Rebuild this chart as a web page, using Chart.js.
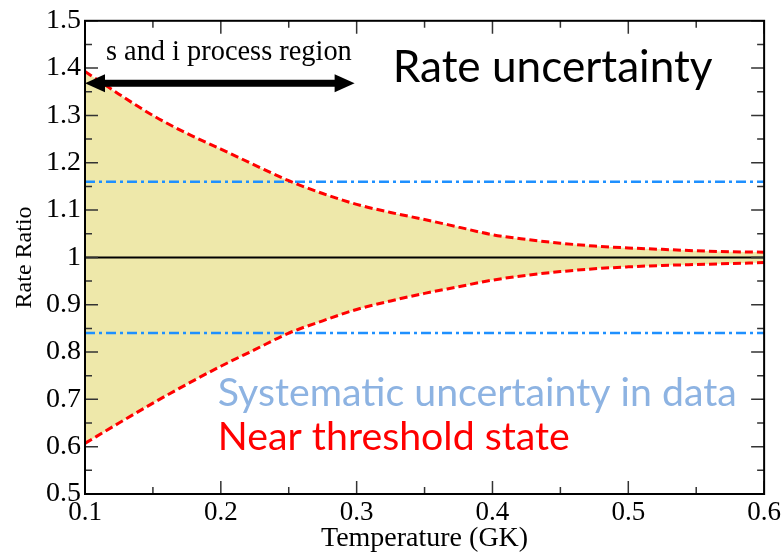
<!DOCTYPE html>
<html><head><meta charset="utf-8">
<script src="https://cdn.jsdelivr.net/npm/chart.js@4.4.1/dist/chart.umd.min.js"></script>
<style>html,body{margin:0;padding:0;background:#fff}#wrap{width:784px;height:552px;position:relative}</style>
</head><body><div id="wrap"><canvas id="c" width="784" height="552"></canvas></div>
<script>
// ---- data ----
const temperature = [0.1,0.125,0.15,0.175,0.2,0.225,0.25,0.275,0.3,0.325,0.35,0.375,0.4,0.425,0.45,0.475,0.5,0.525,0.55,0.575,0.6];
const upperRatio  = [1.393,1.345,1.300,1.262,1.229,1.195,1.162,1.135,1.112,1.095,1.080,1.064,1.048,1.038,1.030,1.024,1.020,1.017,1.014,1.012,1.011];
const lowerRatio  = [0.607,0.650,0.692,0.732,0.770,0.805,0.840,0.866,0.890,0.908,0.924,0.938,0.952,0.962,0.970,0.976,0.980,0.983,0.985,0.987,0.989];
const lineT = [0.1, 0.6];
const nominalRatio = [1.0, 1.0];
const systUpper = [1.16, 1.16];
const systLower = [0.84, 0.84];
const xTickValues = [0.1,0.2,0.3,0.4,0.5,0.6];
const xTickLabels = ['0.1','0.2','0.3','0.4','0.5','0.6'];
const xMinorTicks = [0.15,0.25,0.35,0.45,0.55];
const yTickValues = [0.5,0.6,0.7,0.8,0.9,1.0,1.1,1.2,1.3,1.4,1.5];
const yTickLabels = ['0.5','0.6','0.7','0.8','0.9','1','1.1','1.2','1.3','1.4','1.5'];
const yMinorTicks = [0.55,0.65,0.75,0.85,0.95,1.05,1.15,1.25,1.35,1.45];
const regionArrow = {from:0.1, to:0.2985, y:1.368};
const notes = [
  {text:'s and i process region', x:0.1154, y:1.418, font:'Liberation Serif', width:246, color:'#000'},
  {text:'Rate uncertainty', x:0.3265, y:1.370, font:'Lato', width:320, color:'#000'},
  {text:'Systematic uncertainty in data', x:0.1978, y:0.685, font:'Lato', width:519, color:'#8DB3E2'},
  {text:'Near threshold state', x:0.1978, y:0.593, font:'Lato', width:352, color:'#FF0000'}
];

const pts = (xs, ys) => xs.map((x,i)=>({x:x, y:ys[i]}));

const deco = {
  id:'deco',
  afterDatasetsDraw(chart){
    const ctx = chart.ctx, a = chart.chartArea;
    const xs = chart.scales.x, ys = chart.scales.y;
    ctx.save();
    // ticks
    ctx.strokeStyle = '#333'; ctx.lineWidth = 1.5;
    const tx = (v,len)=>{const p=xs.getPixelForValue(v);
      ctx.beginPath();ctx.moveTo(p,a.bottom);ctx.lineTo(p,a.bottom-len);
      ctx.moveTo(p,a.top);ctx.lineTo(p,a.top+len);ctx.stroke();};
    const ty = (v,len)=>{const p=ys.getPixelForValue(v);
      ctx.beginPath();ctx.moveTo(a.left,p);ctx.lineTo(a.left+len,p);
      ctx.moveTo(a.right,p);ctx.lineTo(a.right-len,p);ctx.stroke();};
    xTickValues.forEach(v=>tx(v,13)); xMinorTicks.forEach(v=>tx(v,7));
    yTickValues.forEach(v=>ty(v,13)); yMinorTicks.forEach(v=>ty(v,7));
    // frame
    ctx.strokeStyle = '#000'; ctx.lineWidth = 2;
    ctx.strokeRect(a.left, a.top, a.right-a.left, a.bottom-a.top);
    // arrow
    const x1 = xs.getPixelForValue(regionArrow.from), x2 = xs.getPixelForValue(regionArrow.to);
    const ay = ys.getPixelForValue(regionArrow.y);
    const hl = 20, hh = 9;
    ctx.fillStyle = '#000';
    ctx.fillRect(x1+hl-2, ay-3.5, (x2-x1)-2*hl+4, 7);
    ctx.beginPath(); ctx.moveTo(x1,ay); ctx.lineTo(x1+hl,ay-hh); ctx.lineTo(x1+hl,ay+hh); ctx.closePath(); ctx.fill();
    ctx.beginPath(); ctx.moveTo(x2,ay); ctx.lineTo(x2-hl,ay-hh); ctx.lineTo(x2-hl,ay+hh); ctx.closePath(); ctx.fill();
    // text notes
    ctx.textBaseline = 'alphabetic'; ctx.textAlign = 'left';
    notes.forEach(n=>{
      ctx.font = '40px "' + n.font + '"';
      const w = ctx.measureText(n.text).width;
      const size = 40 * n.width / w;
      ctx.font = size.toFixed(2) + 'px "' + n.font + '"';
      ctx.fillStyle = n.color;
      ctx.fillText(n.text, xs.getPixelForValue(n.x), ys.getPixelForValue(n.y));
    });
    ctx.restore();
  }
};

new Chart(document.getElementById('c'), {
  type:'line',
  data:{datasets:[
    {label:'upper', data:pts(temperature, upperRatio), borderColor:'#FF0000', borderWidth:3, borderDash:[8,4],
     pointRadius:0, fill:'+1', backgroundColor:'#EEE8AA', cubicInterpolationMode:'monotone'},
    {label:'lower', data:pts(temperature, lowerRatio), borderColor:'#FF0000', borderWidth:3, borderDash:[8,4],
     pointRadius:0, fill:false, cubicInterpolationMode:'monotone'},
    {label:'nominal', data:pts(lineT, nominalRatio), borderColor:'#000', borderWidth:2, pointRadius:0, fill:false},
    {label:'syst+', data:pts(lineT, systUpper), borderColor:'#1E90FF', borderWidth:2.5, borderDash:[10,4,3,4], pointRadius:0, fill:false},
    {label:'syst-', data:pts(lineT, systLower), borderColor:'#1E90FF', borderWidth:2.5, borderDash:[10,4,3,4], pointRadius:0, fill:false}
  ]},
  options:{
    responsive:false, animation:false,
    layout:{padding:{top:18, right:19, left:0, bottom:0}},
    plugins:{legend:{display:false}, tooltip:{enabled:false}, filler:{drawTime:'beforeDatasetsDraw'}},
    scales:{
      x:{type:'linear', min:0.1, max:0.6,
         afterBuildTicks:s=>{s.ticks = xTickValues.map(v=>({value:v}));},
         afterFit:s=>{s.height = 58;},
         grid:{display:false, drawTicks:false}, border:{display:false},
         ticks:{padding:3, color:'#000', font:{family:'Liberation Serif', size:27}, maxRotation:0, autoSkip:false,
                callback:(v,i)=>xTickLabels[i]},
         title:{display:true, text:'Temperature (GK)', color:'#000', font:{family:'Liberation Serif', size:28, lineHeight:0.95}, padding:0}},
      y:{type:'linear', min:0.5, max:1.5,
         afterBuildTicks:s=>{s.ticks = yTickValues.map(v=>({value:v}));},
         afterFit:s=>{s.width = 85;},
         grid:{display:false, drawTicks:false}, border:{display:false},
         ticks:{padding:4, color:'#000', font:{family:'Liberation Serif', size:28}, autoSkip:false,
                callback:(v,i)=>yTickLabels[i]},
         title:{display:true, text:'Rate Ratio', color:'#000', font:{family:'Liberation Serif', size:24}, padding:{top:10, bottom:0}}}
    }
  },
  plugins:[deco]
});
</script>
</body></html>
